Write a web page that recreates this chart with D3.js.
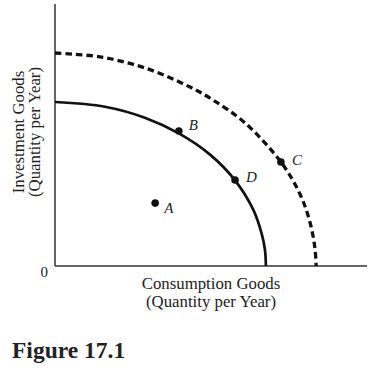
<!DOCTYPE html>
<html>
<head>
<meta charset="utf-8">
<script src="https://cdn.jsdelivr.net/npm/d3@7"></script>
<style>
  body { margin: 0; background: #fff; }
  svg { display: block; }
  text { font-family: "Liberation Serif", "Times New Roman", serif; fill: #222; }
</style>
</head>
<body>
<svg width="378" height="371"></svg>
<script>
// production possibility frontiers (x: consumption, y: investment)
const ppfNowX = [0, 16.0, 28.8, 39.7, 49.7, 57.7, 63.5, 66.3, 67.3, 67.6];
const ppfNowY = [62.6, 60.8, 56.6, 50.6, 42.5, 32.7, 21.6, 12.1, 6.1, 0];
const ppfLaterX = [0, 14.4, 28.8, 43.3, 50.6, 60.9, 72.4, 78.5, 81.7, 83.3, 83.7];
const ppfLaterY = [81.3, 79.8, 75.6, 68.3, 63.4, 54.6, 39.7, 27.5, 16.8, 6.9, 0];

// labelled points
const pointNames = ['A', 'B', 'D', 'C'];
const pointX = [32.1, 39.7, 57.7, 72.4];
const pointY = [24.0, 51.5, 32.8, 39.7];

const xTitle = ['Consumption Goods', '(Quantity per Year)'];
const yTitle = ['Investment Goods', '(Quantity per Year)'];
const caption = 'Figure 17.1';

var svg = d3.select('svg');

var x = d3.scaleLinear().domain([0, 100]).range([55, 367]);
var y = d3.scaleLinear().domain([0, 100]).range([266, 4]);

// axes: plain lines, no ticks
svg.append('line')
  .attr('x1', x(0)).attr('x2', x(0))
  .attr('y1', y(0)).attr('y2', y(100))
  .attr('stroke', '#333').attr('stroke-width', 1.5);
svg.append('line')
  .attr('x1', x(0)).attr('x2', x(100))
  .attr('y1', y(0)).attr('y2', y(0))
  .attr('stroke', '#333').attr('stroke-width', 1.5);

var line = d3.line()
  .x(function (d) { return x(d[0]); })
  .y(function (d) { return y(d[1]); })
  .curve(d3.curveCatmullRom.alpha(0.5));

svg.append('path')
  .datum(d3.zip(ppfLaterX, ppfLaterY))
  .attr('d', line)
  .attr('fill', 'none')
  .attr('stroke', '#111')
  .attr('stroke-width', 3.3)
  .attr('stroke-dasharray', '6.5,4');

svg.append('path')
  .datum(d3.zip(ppfNowX, ppfNowY))
  .attr('d', line)
  .attr('fill', 'none')
  .attr('stroke', '#111')
  .attr('stroke-width', 2.7);

var pts = pointNames.map(function (n, i) {
  return { name: n, x: pointX[i], y: pointY[i] };
});

svg.selectAll('circle.pt')
  .data(pts)
  .enter()
  .append('circle')
  .attr('class', 'pt')
  .attr('cx', function (d) { return x(d.x); })
  .attr('cy', function (d) { return y(d.y); })
  .attr('r', 3.8)
  .attr('fill', '#111');

// label offsets differ a little per point
var labelDx = { A: 9, B: 10, D: 11, C: 11 };
var labelDy = { A: 10, B: -1, D: 2, C: 3 };

svg.selectAll('text.pt')
  .data(pts)
  .enter()
  .append('text')
  .attr('class', 'pt')
  .attr('x', function (d) { return x(d.x) + labelDx[d.name]; })
  .attr('y', function (d) { return y(d.y) + labelDy[d.name]; })
  .attr('font-size', 15)
  .attr('font-style', 'italic')
  .text(function (d) { return d.name; });

svg.append('text')
  .attr('x', x(0) - 7)
  .attr('y', y(0) + 11)
  .attr('text-anchor', 'end')
  .attr('font-size', 15)
  .text('0');

var midX = 211;
svg.selectAll('text.xt')
  .data(xTitle)
  .enter()
  .append('text')
  .attr('class', 'xt')
  .attr('x', midX)
  .attr('y', function (d, i) { return 289 + i * 17.5; })
  .attr('text-anchor', 'middle')
  .attr('font-size', 16.8)
  .text(function (d) { return d; });

var midY = 132;
svg.selectAll('text.yt')
  .data(yTitle)
  .enter()
  .append('text')
  .attr('class', 'yt')
  .attr('transform', function (d, i) {
    return 'translate(' + (24 + i * 16) + ',' + midY + ') rotate(-90)';
  })
  .attr('text-anchor', 'middle')
  .attr('font-size', 16.8)
  .text(function (d) { return d; });

svg.append('text')
  .attr('x', 12)
  .attr('y', 358)
  .attr('font-size', 23.5)
  .attr('font-weight', 'bold')
  .text(caption);
</script>
</body>
</html>
